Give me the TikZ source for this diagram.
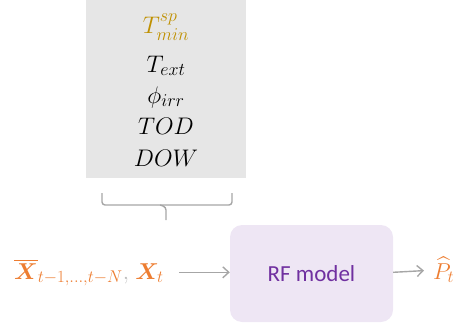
\documentclass[tikz,border=0pt]{standalone}
\usepackage{fix-cm}
\usepackage{amsmath, amssymb, bm}
\usepackage{fontspec}
\setsansfont{Carlito}
\usepackage{xcolor}
\usepackage{tikz}
\usetikzlibrary{arrows.meta, positioning}

\DeclareMathSizes{24}{24}{18}{14}
\DeclareMathSizes{23}{23}{17}{13}

\definecolor{featgray}{HTML}{E6E6E6}
\definecolor{linegray}{HTML}{A6A6A6}
\definecolor{outorange}{HTML}{ED7D31}
\definecolor{spgold}{HTML}{BF9000}
\definecolor{rffill}{HTML}{EEE6F4}
\definecolor{rftext}{HTML}{7030A0}

\begin{document}
\begin{tikzpicture}[x=1pt, y=1pt,
    feat/.style={anchor=base, inner sep=0pt, font=\fontsize{24}{28}\selectfont},
    io/.style={inner sep=0pt, text=outorange, font=\fontsize{23}{27}\selectfont},
    flow/.style={->, draw=linegray, line width=1.4pt, >={Straight Barb[length=6pt, width=11pt]}}]
    \useasboundingbox (0,0) rectangle (460,325);

    % Khối các đặc trưng
    \fill[featgray] (86,147) rectangle (246,325);
    \node[feat, text=spgold] (tmin) at (166,292) {$T_{min}^{sp}$};
    \node[feat] (text) at (166,253) {$T_{ext}$};
    \node[feat] (phi) at (166,222) {$\phi_{irr}$};
    \node[feat] (tod) at (166,191) {$TOD$};
    \node[feat] (dow) at (166,159) {$DOW$};

    % Ngoặc gộp
    \draw[linegray, line width=1.4pt, rounded corners=3pt]
        (102,132) -- (102,120) -- (232,120) -- (232,132);
    \draw[linegray, line width=1.4pt, rounded corners=3pt]
        (160,120) -- (166,118) -- (166,105);

    % Đầu vào, mô hình, đầu ra
    \node[io, anchor=base west] (xin) at (14,46)
        {$\overline{\bm{X}}_{t-1,\ldots,t-N}\textcolor{featgray!60!gray}{,}\;\bm{X}_t$};
    \node[draw=none, fill=rffill, rounded corners=12pt, minimum width=163pt,
        minimum height=97pt, text=rftext, font=\sffamily\fontsize{23}{27}\selectfont]
        (rf) at (311.5,51.5) {RF model};
    \node[io, anchor=base west] (phat) at (433,46) {$\widehat{P}_t$};

    \draw[flow, shorten <=15pt] (xin) -- (xin -| rf.west);
    \draw[flow, shorten >=9pt] (rf.east |- xin) -- (phat);
\end{tikzpicture}
\end{document}
